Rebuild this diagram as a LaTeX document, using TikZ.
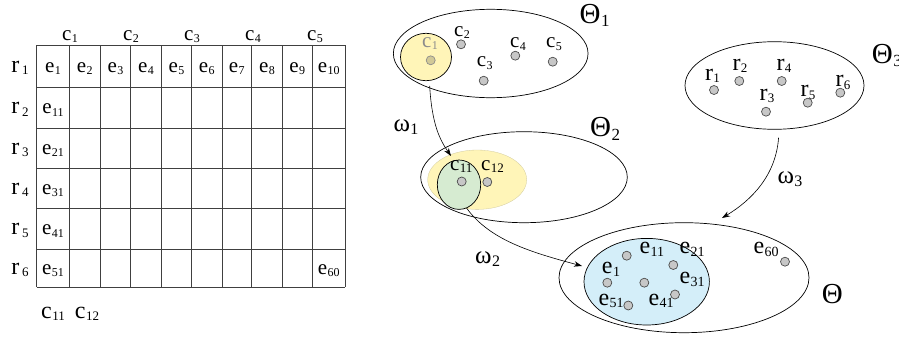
\documentclass[tikz,border=0pt]{standalone}
\usepackage{fontspec}
\setmainfont{Liberation Serif}
\usetikzlibrary{shapes.geometric,arrows.meta}
\newcommand{\sub}[2][12]{\kern0.02em\raisebox{-0.12em}{\fontsize{#1}{#1}\selectfont #2}}
\definecolor{yel}{HTML}{FFF5B8}
\definecolor{grn}{HTML}{D6EBD1}
\definecolor{blu}{HTML}{D4EEF9}
\definecolor{gridc}{HTML}{404040}
\begin{document}
\begin{tikzpicture}[x=1pt,y=-1pt,
  lbl/.style={inner sep=0, anchor=base, font=\fontsize{21}{21}\selectfont},
  rlbl/.style={inner sep=0, anchor=base, font=\fontsize{24}{24}\selectfont},
  wlbl/.style={inner sep=0, anchor=base west, font=\fontsize{21}{21}\selectfont},
  elbl/.style={inner sep=0, anchor=base west, font=\fontsize{24}{24}\selectfont},
  thl/.style={inner sep=0, anchor=base west, font=\fontsize{29}{29}\selectfont},
  oml/.style={inner sep=0, anchor=base west, font=\fontsize{25}{25}\selectfont},
  dot/.style={circle, draw=black!70, fill=black!22, minimum size=9pt, inner sep=0, line width=0.7pt},
  ell/.style={ellipse, draw=black, line width=0.7pt, inner sep=0},
  arr/.style={-{Stealth[length=8pt,width=5.5pt]}, line width=0.6pt},
  gridl/.style={draw=gridc, line width=0.9pt}]
\useasboundingbox (0,0) rectangle (899,340);
% ---- grid ----
\foreach \x in {36.7,69,100.7,130.3,161.7,191.3,222,251.7,282.3,312.3,345}
  \draw[gridl] (\x,45) -- (\x,287);
\foreach \y in {45,87.5,128,168,208.3,249,287}
  \draw[gridl] (36.7,\y) -- (345,\y);
% column headers
\node[lbl] (hc1) at (70,40) {c\sub{1}};
\node[lbl] (hc2) at (131,40) {c\sub{2}};
\node[lbl] (hc3) at (192,40) {c\sub{3}};
\node[lbl] (hc4) at (253,40) {c\sub{4}};
\node[lbl] (hc5) at (315,40) {c\sub{5}};
% row labels
\node[rlbl] (hr1) at (20,72) {r\sub[13]{\,1}};
\node[rlbl] (hr2) at (20,113.5) {r\sub[13]{\,2}};
\node[rlbl] (hr3) at (20,154) {r\sub[13]{\,3}};
\node[rlbl] (hr4) at (20,194) {r\sub[13]{\,4}};
\node[rlbl] (hr5) at (20,234.5) {r\sub[13]{\,5}};
\node[rlbl] (hr6) at (20,274) {r\sub[13]{\,6}};
% first row cells
\node[lbl] (ge1) at (53,72) {e\sub{1}};
\node[lbl] (ge2) at (84.8,72) {e\sub{2}};
\node[lbl] (ge3) at (115.5,72) {e\sub{3}};
\node[lbl] (ge4) at (146,72) {e\sub{4}};
\node[lbl] (ge5) at (176.5,72) {e\sub{5}};
\node[lbl] (ge6) at (206.7,72) {e\sub{6}};
\node[lbl] (ge7) at (236.8,72) {e\sub{7}};
\node[lbl] (ge8) at (267,72) {e\sub{8}};
\node[lbl] (ge9) at (297.3,72) {e\sub{9}};
\node[lbl] (ge10) at (328.7,72) {e\sub{10}};
% first column cells
\node[lbl] (ge11) at (53,113.5) {e\sub{11}};
\node[lbl] (ge21) at (53,154) {e\sub{21}};
\node[lbl] (ge31) at (53,194) {e\sub{31}};
\node[lbl] (ge41) at (53,234.5) {e\sub{41}};
\node[lbl] (ge51) at (53,274) {e\sub{51}};
\node[lbl] (ge60) at (328.7,274) {e\sub{60}};
% below grid
\node[rlbl] (bc11) at (53,318) {c\sub[13]{11}};
\node[rlbl] (bc12) at (87,318) {c\sub[13]{12}};

% ---- Theta_1 ----
\node[ell, minimum width=194.7pt, minimum height=88.4pt] (th1) at (490.7,53.5) {};
\node[ell, fill=yel, minimum width=51pt, minimum height=47.4pt] (yc1) at (426,57) {};
\node[dot, draw=black!45, fill=black!18!yel] (dc1) at (430.7,60.3) {};
\node[lbl, text=black!45] (lc1) at (430,47) {c\sub{1}};
\node[dot] (dc2) at (461,44.3) {};
\node[dot] (dc3) at (483.7,80.7) {};
\node[dot] (dc4) at (515.3,55.7) {};
\node[dot] (dc5) at (552.7,61.7) {};
\node[lbl] (lc2) at (462,36) {c\sub{2}};
\node[lbl] (lc3) at (484.7,66.7) {c\sub{3}};
\node[lbl] (lc4) at (518,47.7) {c\sub{4}};
\node[lbl] (lc5) at (554,47.7) {c\sub{5}};
\node[thl] (tth1) at (579.5,23.5) {Θ\sub[17]{1}};

% ---- Theta_3 ----
\node[ell, minimum width=179pt, minimum height=87.6pt] (th3) at (774.5,85.5) {};
\node[dot] (dr1) at (714,90) {};
\node[dot] (dr2) at (739.3,81) {};
\node[dot] (dr3) at (766,111.7) {};
\node[dot] (dr4) at (781.7,81) {};
\node[dot] (dr5) at (807.7,102.7) {};
\node[dot] (dr6) at (840.3,92.7) {};
\node[rlbl] (lr1) at (712.5,80) {r\sub[13]{1}};
\node[rlbl] (lr2) at (740,70) {r\sub[13]{2}};
\node[rlbl] (lr3) at (767,100) {r\sub[13]{3}};
\node[rlbl] (lr4) at (784,70) {r\sub[13]{4}};
\node[rlbl] (lr5) at (808,96.7) {r\sub[13]{5}};
\node[rlbl] (lr6) at (843,86.7) {r\sub[13]{6}};
\node[thl] (tth3) at (871.7,63.3) {Θ\sub[17]{3}};

% ---- Theta_2 ----
\node[ell, minimum width=206.6pt, minimum height=91pt] (th2) at (524,177.2) {};
\node[ellipse, fill=yel, draw=yel!80!black!90, line width=0.3pt, inner sep=0, minimum width=99pt, minimum height=59.4pt] (ye2) at (477.2,179.7) {};
\node[ell, fill=grn, minimum width=43.4pt, minimum height=49.4pt] (gc) at (459,184.7) {};
\node[dot] (dc11) at (461.7,181.5) {};
\node[dot] (dc12) at (487.3,182) {};
\node[wlbl] (lc11) at (450,170) {c\sub[13]{11}};
\node[wlbl] (lc12) at (481,170) {c\sub[13]{12}};
\node[thl] (tth2) at (590,136.7) {Θ\sub[17]{2}};

% ---- Theta ----
\node[ell, minimum width=250pt, minimum height=110pt] (th) at (684,277.7) {};
\node[ell, fill=blu, minimum width=125.4pt, minimum height=86.6pt] (be) at (646.7,281.7) {};
\node[dot] (de11) at (626.7,255.7) {};
\node[dot] (de21) at (673.3,265) {};
\node[dot] (de1) at (607.3,282.7) {};
\node[dot] (dec) at (644.3,282.7) {};
\node[dot] (de31) at (675,294.5) {};
\node[dot] (de51) at (628.3,305.5) {};
\node[dot] (de60) at (785,261.7) {};
\node[elbl] (le11) at (639.3,253.3) {e\sub[14]{11}};
\node[elbl] (le21) at (679.3,253.3) {e\sub[14]{21}};
\node[elbl] (le1) at (601.7,273.3) {e\sub[14]{1}};
\node[elbl] (le31) at (679.3,283.3) {e\sub[14]{31}};
\node[elbl] (le51) at (598.3,305) {e\sub[14]{51}};
\node[elbl] (le41) at (648.3,305) {e\sub[14]{41}};
\node[elbl] (le60) at (753.3,253.3) {e\sub[14]{60}};
\node[thl] (tth) at (821.7,303.3) {Θ};

% ---- arrows ----
\coordinate (t1) at (451,156);
\coordinate (t2) at (582,266);
\coordinate (t3) at (722,218);
\draw[arr, shorten <=5pt] (yc1.-82) .. controls (432,125) and (440,140) .. (t1);
\draw[arr] (gc.-72) .. controls (490,240) and (530,252) .. (t2);
\draw[arr, shorten <=8pt] (th3.-84) .. controls (776,175) and (752,200) .. (t3);
\node[oml] (w1) at (393.3,131.7) {ω\sub[16]{1}};
\node[oml] (w2) at (475,263.3) {ω\sub[16]{2}};
\node[oml] (w3) at (777.3,183) {ω\sub[16]{3}};
\end{tikzpicture}
\end{document}
